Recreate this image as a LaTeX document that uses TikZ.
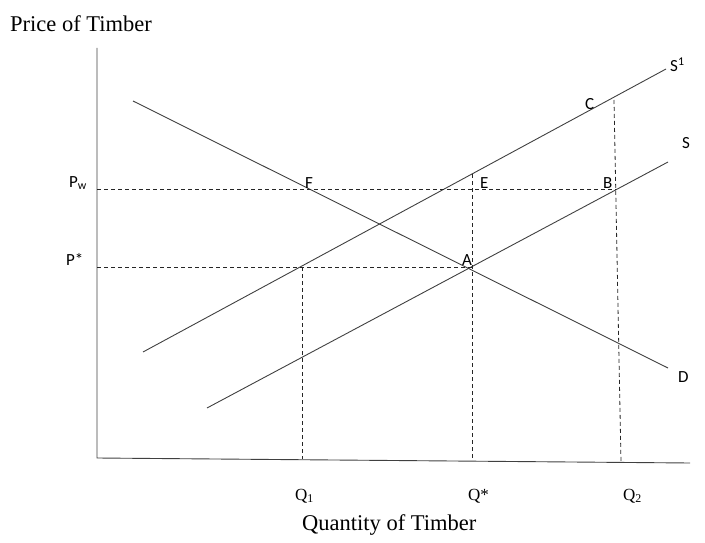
\documentclass[tikz,border=0pt]{standalone}
\usepackage{fontspec}
\setmainfont{Liberation Serif}
\newfontfamily\carlitofont{Carlito}
\begin{document}
\begin{tikzpicture}[x=1pt,y=-1pt,
  curve/.style={draw=black!75, line width=0.9pt},
  guide/.style={draw=black!85, dashed, dash pattern=on 4pt off 3pt, line width=0.8pt},
  ptlabel/.style={font=\carlitofont\fontsize{17}{18}\selectfont, inner sep=0pt, anchor=base west},
  qlab/.style={font=\fontsize{17}{18}\selectfont, inner sep=0pt, anchor=base west},
  serlab/.style={font=\fontsize{22.5}{24}\selectfont, inner sep=0pt, anchor=base west}]
\useasboundingbox (0,0) rectangle (705,543);
% axes
\coordinate (ytop) at (97,48);
\coordinate (origin) at (97,458);
\coordinate (xend) at (690,463);
\draw[curve] (ytop) -- (origin) -- (xend);
% curves
\coordinate (D1) at (133,101); \coordinate (D2) at (668,368);
\coordinate (S1a) at (207,408); \coordinate (S1b) at (668,162);
\coordinate (T1) at (143,352); \coordinate (T2) at (666,69);
\draw[curve] (D1) -- (D2);
\draw[curve] (S1a) -- (S1b);
\draw[curve] (T1) -- (T2);
% key points
\coordinate (F) at (306,189);
\coordinate (E) at (472,174);
\coordinate (B) at (616,189);
\coordinate (A) at (472,267);
\coordinate (C) at (614,100);
\coordinate (G) at (302,267);
\coordinate (pw) at (97,189);
\coordinate (ps) at (97,267);
\coordinate (q1) at (302,459);
\coordinate (qs) at (472,460);
\coordinate (q2) at (621,462);
% guides
\draw[guide] (pw) -- (B);
\draw[guide] (ps) -- (A);
\draw[guide] (G) -- (q1);
\draw[guide] (E) -- (qs);
\draw[guide] (C) -- (q2);
% labels
\node[serlab] (ylab) at (10,32) {Price of Timber};
\node[serlab] (xlab) at (302,530) {Quantity of Timber};
\node[ptlabel] (lpw) at (69,187) {P\textsubscript{w}};
\node[ptlabel] (lps) at (66,265) {P*};
\node[qlab] (lq1) at (295,500) {Q\textsubscript{1}};
\node[qlab] (lqs) at (468,500) {Q*};
\node[qlab] (lq2) at (623,500) {Q\textsubscript{2}};
\node[ptlabel] (lF) at (305,188) {F};
\node[ptlabel] (lE) at (480,188) {E};
\node[ptlabel] (lB) at (603,188) {B};
\node[ptlabel] (lA) at (462,265) {A};
\node[ptlabel] (lC) at (585,110) {C};
\node[ptlabel] (lS1) at (670,72) {S\textsuperscript{1}};
\node[ptlabel] (lS) at (682,148) {S};
\node[ptlabel] (lD) at (678,382) {D};
\end{tikzpicture}
\end{document}
